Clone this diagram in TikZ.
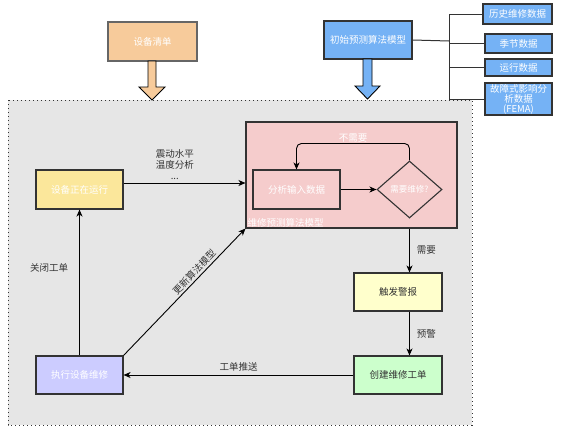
\documentclass[tikz,border=0pt]{standalone}
\usepackage{fontspec}
\setmainfont{Noto Sans CJK SC}
\usetikzlibrary{arrows.meta,shapes.geometric,calc}
\definecolor{peach}{HTML}{F7CB9B}
\definecolor{bluebox}{HTML}{75B2F5}
\definecolor{yelbox}{HTML}{FBE79B}
\definecolor{pinkbox}{HTML}{F5CCCC}
\definecolor{lightyel}{HTML}{FFFFCC}
\definecolor{greenbox}{HTML}{CCFFCC}
\definecolor{lavbox}{HTML}{CCCCFF}
\definecolor{bgray}{HTML}{E6E6E6}
\definecolor{edgec}{HTML}{333333}
\definecolor{txt}{HTML}{333333}
\tikzset{
  box/.style={draw=edgec, line width=1.1pt, inner sep=0pt, align=center, font=\fontsize{9.5}{11}\selectfont},
  wtext/.style={text=white},
  dtext/.style={text=txt},
  arr/.style={draw=black, line width=0.9pt, -{Stealth[length=7pt,width=6pt,inset=2pt]}},
  lbl/.style={font=\fontsize{9.5}{11}\selectfont, text=txt, inner sep=1pt, align=center},
  tree/.style={draw=edgec, line width=1pt},
  blockarr/.style={draw=black, line width=0.9pt},
}
\begin{document}
\begin{tikzpicture}[x=1pt,y=-1pt]
\useasboundingbox (0,0) rectangle (561,434);
% background dotted region
\draw[fill=bgray, draw=edgec, line width=1pt, dash pattern=on 1pt off 3pt] (8,100) rectangle (472,425);

% top boxes
\node[box, wtext, fill=peach, draw=gray!80!black, minimum width=89pt, minimum height=39pt] (list) at (152.5,41.5) {设备清单};
\node[box, wtext, fill=bluebox, minimum width=88pt, minimum height=38pt] (init) at (368,40) {初始预测算法模型};

% right data boxes
\node[box, wtext, fill=bluebox, minimum width=69pt, minimum height=20pt] (hist) at (517.5,14) {历史维修数据};
\node[box, wtext, fill=bluebox, minimum width=67pt, minimum height=19pt] (season) at (518.5,43.5) {季节数据};
\node[box, wtext, fill=bluebox, minimum width=67pt, minimum height=17pt] (opdata) at (518.5,67.5) {运行数据};
\node[box, wtext, fill=bluebox, minimum width=67pt, minimum height=32pt, font=\fontsize{9.5}{10}\selectfont] (fema) at (518.5,99) {故障式影响分\\析数据\\(FEMA)};

% tree connectors
\coordinate (tj) at (449,41);
\draw[tree] (init.east) -- (tj);
\draw[tree] (tj) |- (hist.west);
\draw[tree] (tj) |- (season.west);
\draw[tree] (tj) |- (opdata.west);
\draw[tree] (tj) |- (fema.west);

% block arrows
\draw[blockarr, fill=peach] (148,61) -- (148,87) -- (139,87) -- (152,100) -- (165,87) -- (156,87) -- (156,61) -- cycle;
\draw[blockarr, fill=bluebox] (363,59) -- (363,86) -- (355,86) -- (367.5,99) -- (380,86) -- (372,86) -- (372,59) -- cycle;

% main nodes
\node[box, wtext, fill=yelbox, minimum width=87pt, minimum height=39pt] (run) at (79.5,189.5) {设备正在运行};
\node[box, fill=pinkbox, minimum width=211pt, minimum height=106pt] (pink) at (351.5,175) {};
\node[wtext, font=\fontsize{9.5}{11}\selectfont, inner sep=1pt, anchor=south west] (pinklbl) at ([xshift=1pt,yshift=0pt]pink.south west) {维修预测算法模型};
\node[box, wtext, fill=pinkbox, minimum width=87pt, minimum height=39pt] (ana) at (296.5,189.5) {分析输入数据};
\node[box, wtext, fill=pinkbox, diamond, aspect=1.14, minimum width=65pt, minimum height=57pt, font=\fontsize{8.5}{10}\selectfont] (dia) at (409.5,189.5) {需要维修?};
\node[box, dtext, fill=lightyel, minimum width=88pt, minimum height=38pt] (alarm) at (398,292) {触发警报};
\node[box, dtext, fill=greenbox, minimum width=88pt, minimum height=38pt] (order) at (398,375) {创建维修工单};
\node[box, wtext, fill=lavbox, minimum width=87pt, minimum height=38pt] (exec) at (79.5,375) {执行设备维修};

% connectors
\coordinate (a1) at ([yshift=6.5pt]run.east);
\draw[arr] (a1) -- node[lbl, above=2pt, pos=0.42] {震动水平\\温度分析\\...} (a1 -| pink.west);
\draw[arr] (ana.east) -- (dia.west);
\draw[arr, rounded corners=5pt] (dia.north) -- ++(0,-17) -| node[pos=0.25, above, font=\fontsize{9.5}{11}\selectfont, text=white, inner sep=1pt] {不需要} (ana.north);
\draw[arr] (dia.south |- pink.south) -- node[lbl, right=6pt] {需要} (dia.south |- alarm.north);
\draw[arr] (dia.south |- alarm.south) -- node[lbl, right=6pt] {预警} (dia.south |- order.north);
\draw[arr] (order.west) -- node[lbl, above=2pt] {工单推送} (exec.east);
\draw[arr] (exec.north) -- node[lbl, left=10pt, pos=0.6] {关闭工单} (run.south);
\draw[arr] (exec.north east) -- node[lbl, sloped, above=1pt, pos=0.62] {更新算法模型} (pink.south west);
\end{tikzpicture}
\end{document}
